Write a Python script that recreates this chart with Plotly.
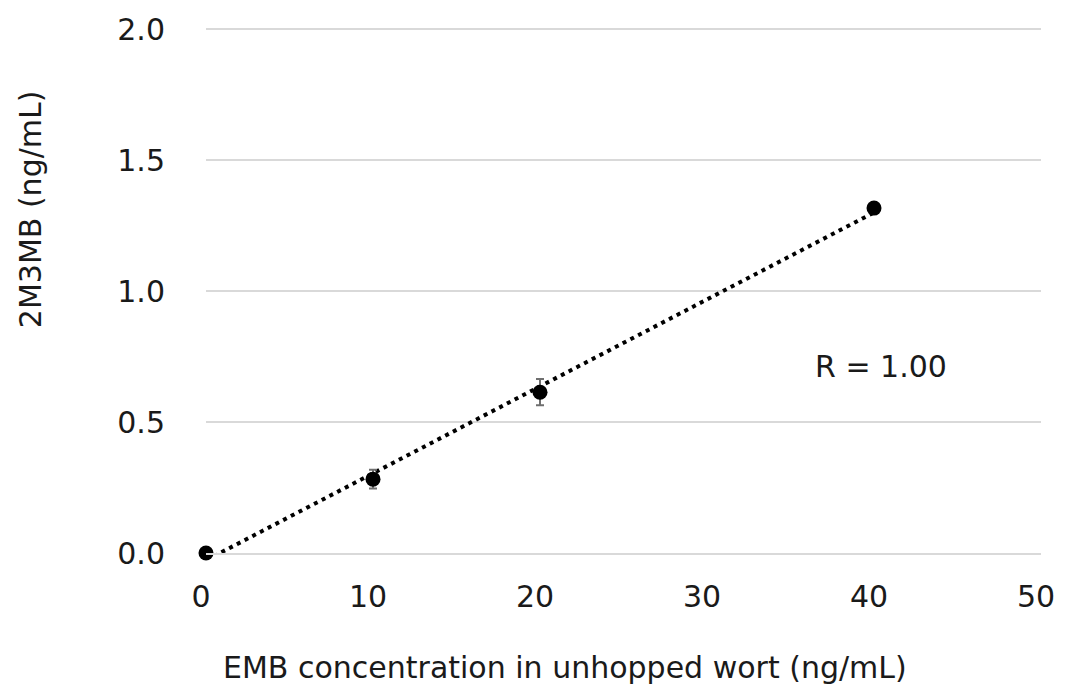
import numpy as np
import plotly.graph_objects as go

# Measured 2M3MB against spiked EMB in unhopped wort
emb_conc = [0, 10, 20, 40]            # ng/mL
mb_conc = [0.0, 0.282, 0.614, 1.317]  # ng/mL
mb_err = [0.0, 0.036, 0.05, 0.01]     # ng/mL

x_ticks = [0, 10, 20, 30, 40, 50]
y_ticks = [0.0, 0.5, 1.0, 1.5, 2.0]
y_tick_text = ["0.0", "0.5", "1.0", "1.5", "2.0"]
r_label = "R = 1.00"
x_title = "EMB concentration in unhopped wort (ng/mL)"
y_title = "2M3MB (ng/mL)"

FONT = "DejaVu Sans"
SIZE = 30
TEXT = "#1a1a1a"
GRID = "#d9d9d9"

# Least-squares linear trend through the measurements
slope, intercept = np.polyfit(emb_conc, mb_conc, 1)
fit_x = np.array([min(emb_conc), max(emb_conc)])
fit_y = slope * fit_x + intercept

fig = go.Figure()

fig.add_trace(go.Scatter(
    x=fit_x, y=fit_y, mode="lines",
    line=dict(color="black", width=4, dash="4px,4.7px"),
    hoverinfo="skip", showlegend=False, cliponaxis=False,
))

fig.add_trace(go.Scatter(
    x=emb_conc, y=mb_conc, mode="markers",
    marker=dict(color="black", size=15),
    error_y=dict(type="data", array=mb_err, visible=True,
                 color="#6f6f6f", thickness=2, width=4),
    showlegend=False, cliponaxis=False,
))

# Correlation coefficient label
fig.add_annotation(
    x=40.4, y=0.712, xref="x", yref="y", text=r_label, showarrow=False,
    xanchor="center", yanchor="middle",
    font=dict(family=FONT, size=SIZE, color=TEXT),
)

# Axis titles
fig.add_annotation(
    x=0.43, y=0, xref="paper", yref="paper", text=x_title, showarrow=False,
    xanchor="center", yanchor="middle", yshift=-114,
    font=dict(family=FONT, size=SIZE, color=TEXT),
)
fig.add_annotation(
    x=0, y=0.65, xref="paper", yref="paper", text=y_title, showarrow=False,
    textangle=-90, xanchor="center", yanchor="middle", xshift=-176,
    font=dict(family=FONT, size=SIZE, color=TEXT),
)

fig.update_layout(
    width=1067, height=691,
    margin=dict(l=206, r=20, t=24, b=138),
    paper_bgcolor="white", plot_bgcolor="white",
    font=dict(family=FONT, size=SIZE, color=TEXT),
    xaxis=dict(
        range=[0, 50], tickvals=x_ticks, showgrid=False, zeroline=False,
        showline=True, linecolor=GRID, linewidth=2,
        ticks="", ticklabelstandoff=16, ticklabelshift=-5,
        tickfont=dict(family=FONT, size=SIZE, color=TEXT),
    ),
    yaxis=dict(
        range=[0, 2.02], tickvals=y_ticks, ticktext=y_tick_text,
        showgrid=True, gridcolor=GRID, gridwidth=2, zeroline=False,
        showline=False, ticks="", ticklabelstandoff=40,
        tickfont=dict(family=FONT, size=SIZE, color=TEXT),
    ),
)

fig.write_html("out.html")
